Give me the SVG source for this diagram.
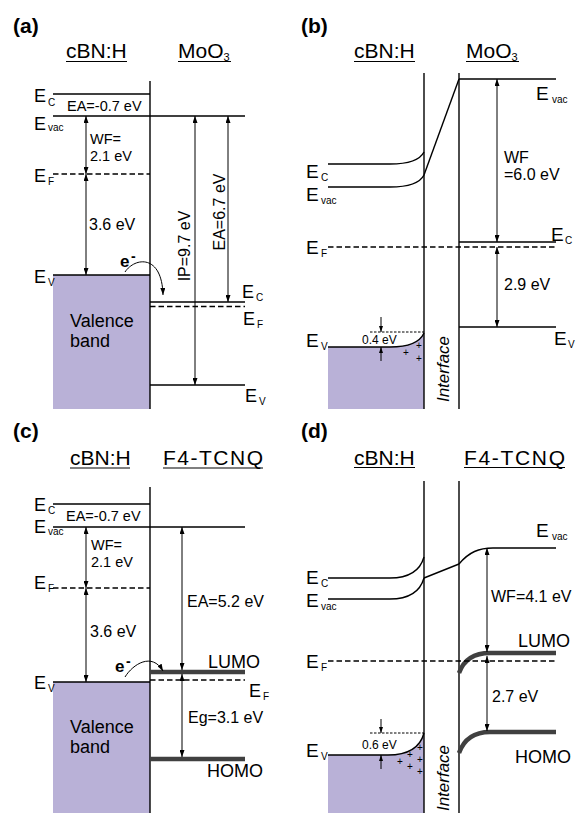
<svg xmlns="http://www.w3.org/2000/svg" width="576" height="813" viewBox="0 0 576 813">
<defs>
<marker id="ah" viewBox="0 0 7 5" refX="7" refY="2.5" markerWidth="7" markerHeight="5" markerUnits="userSpaceOnUse" orient="auto-start-reverse"><path d="M0,0 L7,2.5 L0,5 z" fill="#000"/></marker>
<marker id="ahs" viewBox="0 0 6 4" refX="6" refY="2" markerWidth="6" markerHeight="4" markerUnits="userSpaceOnUse" orient="auto-start-reverse"><path d="M0,0 L6,2 L0,4 z" fill="#000"/></marker>
</defs>
<style>
text{font-family:"Liberation Sans",Arial,sans-serif;fill:#000}
.pl{font-weight:bold;font-size:21px}
.ti{font-size:21px}
.E{font-size:18px}
.Eb{font-size:19px}
.sub{font-size:10px}
.lb{font-size:16px}
.sm{font-size:14.5px}
.vb{font-size:18px}
.mo{font-size:18px}
.it{font-size:17px;font-style:italic}
.tiny{font-size:12px}
.plus{font-size:10px}
.ln{stroke:#000;stroke-width:1.4;fill:none}
.ul{stroke:#000;stroke-width:1.1}
.dsh{stroke:#000;stroke-width:1.3;stroke-dasharray:5.5 3;fill:none}
.dot{stroke:#000;stroke-width:1;stroke-dasharray:2.5 1.5;fill:none}
.arr{stroke:#000;stroke-width:1;fill:none;marker-start:url(#ah);marker-end:url(#ah)}
.sa{stroke:#000;stroke-width:1;fill:none;marker-end:url(#ahs)}
.ca{stroke:#000;stroke-width:1;fill:none;marker-end:url(#ah)}
.thk{stroke:#404040;stroke-width:4.5;fill:none}
.vb-fill{fill:#b9b1d7}
</style>

<g id="panel-a">
<text class="pl" x="13" y="33">(a)</text>
<text class="ti" x="66" y="58">cBN:H</text><line class="ul" x1="66" y1="61.5" x2="127" y2="61.5"/>
<text class="ti" x="178" y="58">MoO<tspan font-size="11" dy="3">3</tspan></text><line class="ul" x1="178" y1="61.5" x2="231" y2="61.5"/>
<rect class="vb-fill" x="53" y="275" width="97" height="134"/>
<line class="ln" x1="150" y1="81" x2="150" y2="409"/>
<line class="ln" x1="53" y1="94" x2="150" y2="94"/>
<line class="ln" x1="53" y1="116" x2="245" y2="116"/>
<line class="dsh" x1="53" y1="174" x2="150" y2="174"/>
<line class="ln" x1="53" y1="275" x2="150" y2="275"/>
<line class="ln" x1="150" y1="302" x2="245" y2="302"/>
<line class="dsh" x1="150" y1="306.5" x2="245" y2="306.5"/>
<line class="ln" x1="150" y1="385" x2="245" y2="385"/>
<line class="arr" x1="86" y1="116" x2="86" y2="174"/>
<line class="arr" x1="86" y1="174" x2="86" y2="275"/>
<line class="arr" x1="195" y1="116" x2="195" y2="385"/>
<line class="arr" x1="228" y1="116" x2="228" y2="302"/>
<path class="ca" d="M125,272 C135,257 162,254 163,295"/>
<text class="E" x="34" y="102">E</text><text class="sub" x="48" y="106">C</text>
<text class="E" x="34" y="130">E</text><text class="sub" x="48" y="131">vac</text>
<text class="E" x="34" y="182">E</text><text class="sub" x="48" y="185">F</text>
<text class="E" x="34" y="283">E</text><text class="sub" x="48" y="286">V</text>
<text class="E" x="242" y="298">E</text><text class="sub" x="256" y="301">C</text>
<text class="E" x="243" y="325">E</text><text class="sub" x="257" y="328">F</text>
<text class="E" x="245" y="402">E</text><text class="sub" x="259" y="405">V</text>
<text class="sm" x="67" y="111">EA=-0.7 eV</text>
<text class="sm" x="90" y="144">WF=</text>
<text class="sm" x="90" y="161">2.1 eV</text>
<text class="lb" x="89" y="230">3.6 eV</text>
<text class="vb" x="70" y="327">Valence</text>
<text class="vb" x="70" y="347">band</text>
<text font-weight="bold" font-size="17" x="120" y="267">e</text><text font-weight="bold" font-size="14" x="131" y="261">-</text>
<text class="lb" text-anchor="middle" transform="translate(190,246) rotate(-90)">IP=9.7 eV</text>
<text class="lb" text-anchor="middle" transform="translate(225,212) rotate(-90)">EA=6.7 eV</text>
</g>

<g id="panel-b">
<text class="pl" x="301" y="33">(b)</text>
<text class="ti" x="354" y="58">cBN:H</text><line class="ul" x1="354" y1="61.5" x2="415" y2="61.5"/>
<text class="ti" x="466" y="58">MoO<tspan font-size="11" dy="3">3</tspan></text><line class="ul" x1="466" y1="61.5" x2="519" y2="61.5"/>
<path class="vb-fill" d="M328,347 H390 C408,347 420,342 424,333 V409 H328 Z"/>
<line class="ln" x1="424" y1="73" x2="424" y2="409"/>
<line class="ln" x1="459" y1="73" x2="459" y2="409"/>
<line class="ln" x1="459" y1="79" x2="556" y2="79"/>
<line class="ln" x1="459" y1="79" x2="424" y2="175"/>
<path class="ln" d="M328,164 H390 C408,164 420,160 424,152"/>
<path class="ln" d="M328,187 H390 C408,187 420,183 424,175"/>
<line class="ln" x1="459" y1="242" x2="556" y2="242"/>
<line class="dsh" x1="328" y1="247" x2="556" y2="247"/>
<line class="ln" x1="459" y1="327" x2="556" y2="327"/>
<path class="ln" d="M328,347 H390 C408,347 420,342 424,333"/>
<line class="dot" x1="370" y1="332" x2="424" y2="332"/>
<line class="arr" x1="497" y1="79" x2="497" y2="242"/>
<line class="arr" x1="497" y1="247" x2="497" y2="327"/>
<line class="sa" x1="381" y1="317" x2="381" y2="332"/>
<line class="sa" x1="381" y1="361" x2="381" y2="347"/>
<text class="Eb" x="536" y="100">E</text><text class="sub" x="552" y="103">vac</text>
<text class="Eb" x="306" y="178">E</text><text class="sub" x="321" y="181">C</text>
<text class="Eb" x="306" y="201">E</text><text class="sub" x="321" y="204">vac</text>
<text class="Eb" x="551" y="241">E</text><text class="sub" x="565" y="244">C</text>
<text class="Eb" x="306" y="254">E</text><text class="sub" x="321" y="257">F</text>
<text class="Eb" x="554" y="345">E</text><text class="sub" x="568" y="348">V</text>
<text class="Eb" x="306" y="347">E</text><text class="sub" x="321" y="350">V</text>
<text class="lb" x="504" y="163">WF</text>
<text class="lb" x="504" y="180">=6.0 eV</text>
<text class="lb" x="504" y="290">2.9 eV</text>
<text class="tiny" x="362" y="344">0.4 eV</text>
<text class="plus" text-anchor="middle" x="406" y="356">+</text>
<text class="plus" text-anchor="middle" x="419" y="349">+</text>
<text class="plus" text-anchor="middle" x="419" y="362">+</text>
<text class="it" text-anchor="middle" transform="translate(449,369) rotate(-90)">Interface</text>
</g>

<g id="panel-c">
<text class="pl" x="13" y="438">(c)</text>
<text class="ti" x="70" y="465">cBN:H</text><line class="ul" x1="70" y1="468" x2="130" y2="468"/>
<text class="ti" x="163" y="465" textLength="100">F4-TCNQ</text><line class="ul" x1="163" y1="468" x2="263" y2="468"/>
<rect class="vb-fill" x="53" y="682" width="97" height="131"/>
<line class="ln" x1="150" y1="487" x2="150" y2="813"/>
<line class="ln" x1="53" y1="504" x2="150" y2="504"/>
<line class="ln" x1="53" y1="527" x2="245" y2="527"/>
<line class="dsh" x1="53" y1="588" x2="150" y2="588"/>
<line class="ln" x1="53" y1="682" x2="150" y2="682"/>
<line class="thk" x1="150" y1="672" x2="245" y2="672"/>
<line class="dsh" x1="150" y1="680" x2="245" y2="680"/>
<line class="thk" x1="150" y1="759" x2="245" y2="759"/>
<line class="arr" x1="86" y1="527" x2="86" y2="588"/>
<line class="arr" x1="86" y1="588" x2="86" y2="682"/>
<line class="arr" x1="182" y1="527" x2="182" y2="670"/>
<line class="arr" x1="182" y1="674" x2="182" y2="757"/>
<path class="ca" d="M125,677 C133,664 152,652 163,671"/>
<text class="E" x="34" y="511">E</text><text class="sub" x="48" y="514">C</text>
<text class="E" x="34" y="533">E</text><text class="sub" x="48" y="535">vac</text>
<text class="E" x="34" y="589">E</text><text class="sub" x="48" y="592">F</text>
<text class="E" x="34" y="689">E</text><text class="sub" x="48" y="692">V</text>
<text class="E" x="249" y="697">E</text><text class="sub" x="263" y="700">F</text>
<text class="sm" x="66" y="521">EA=-0.7 eV</text>
<text class="sm" x="91" y="550">WF=</text>
<text class="sm" x="91" y="567">2.1 eV</text>
<text class="lb" x="90" y="637">3.6 eV</text>
<text class="lb" x="187" y="607">EA=5.2 eV</text>
<text class="lb" x="188" y="723">Eg=3.1 eV</text>
<text class="mo" x="208" y="668">LUMO</text>
<text class="mo" x="207" y="777">HOMO</text>
<text class="vb" x="70" y="733">Valence</text>
<text class="vb" x="70" y="753">band</text>
<text font-weight="bold" font-size="17" x="115" y="672">e</text><text font-weight="bold" font-size="14" x="126" y="666">-</text>
</g>

<g id="panel-d">
<text class="pl" x="301" y="438">(d)</text>
<text class="ti" x="354" y="465">cBN:H</text><line class="ul" x1="354" y1="467.5" x2="415" y2="467.5"/>
<text class="ti" x="464" y="465" textLength="101">F4-TCNQ</text><line class="ul" x1="464" y1="467.5" x2="565" y2="467.5"/>
<path class="vb-fill" d="M328,755 H388 C408,755 420,748 424,733 V813 H328 Z"/>
<line class="ln" x1="424" y1="481" x2="424" y2="813"/>
<line class="ln" x1="459" y1="481" x2="459" y2="813"/>
<path class="ln" d="M459,564 C469,552 479,548 493,548 H556"/>
<line class="ln" x1="424" y1="578" x2="459" y2="564"/>
<path class="ln" d="M328,578 H390 C408,578 420,571 424,557"/>
<path class="ln" d="M328,599 H390 C408,599 420,592 424,578"/>
<path class="thk" d="M459,673 C464,659 474,653 490,653 H556"/>
<line class="dsh" x1="328" y1="661" x2="556" y2="661"/>
<path class="thk" d="M459,753 C464,739 474,732 490,732 H556"/>
<path class="ln" d="M328,755 H388 C408,755 420,748 424,733"/>
<line class="dot" x1="370" y1="733" x2="424" y2="733"/>
<line class="arr" x1="487" y1="548" x2="487" y2="652"/>
<line class="arr" x1="487" y1="656" x2="487" y2="731"/>
<line class="sa" x1="381" y1="719" x2="381" y2="733"/>
<line class="sa" x1="381" y1="769" x2="381" y2="755"/>
<text class="Eb" x="536" y="537">E</text><text class="sub" x="552" y="540">vac</text>
<text class="Eb" x="306" y="584">E</text><text class="sub" x="321" y="587">C</text>
<text class="Eb" x="306" y="607">E</text><text class="sub" x="321" y="610">vac</text>
<text class="Eb" x="306" y="668">E</text><text class="sub" x="321" y="671">F</text>
<text class="Eb" x="306" y="757">E</text><text class="sub" x="321" y="760">V</text>
<text class="lb" x="491" y="602">WF=4.1 eV</text>
<text class="lb" x="492" y="702">2.7 eV</text>
<text class="mo" x="518" y="647">LUMO</text>
<text class="mo" x="515" y="763">HOMO</text>
<text class="tiny" font-size="13" x="362" y="749">0.6 eV</text>
<text class="plus" text-anchor="middle" x="420" y="751">+</text>
<text class="plus" text-anchor="middle" x="410" y="758">+</text>
<text class="plus" text-anchor="middle" x="420" y="763">+</text>
<text class="plus" text-anchor="middle" x="400" y="765">+</text>
<text class="plus" text-anchor="middle" x="410" y="770">+</text>
<text class="plus" text-anchor="middle" x="420" y="775">+</text>
<text class="it" text-anchor="middle" transform="translate(449,778) rotate(-90)">Interface</text>
</g>
</svg>
